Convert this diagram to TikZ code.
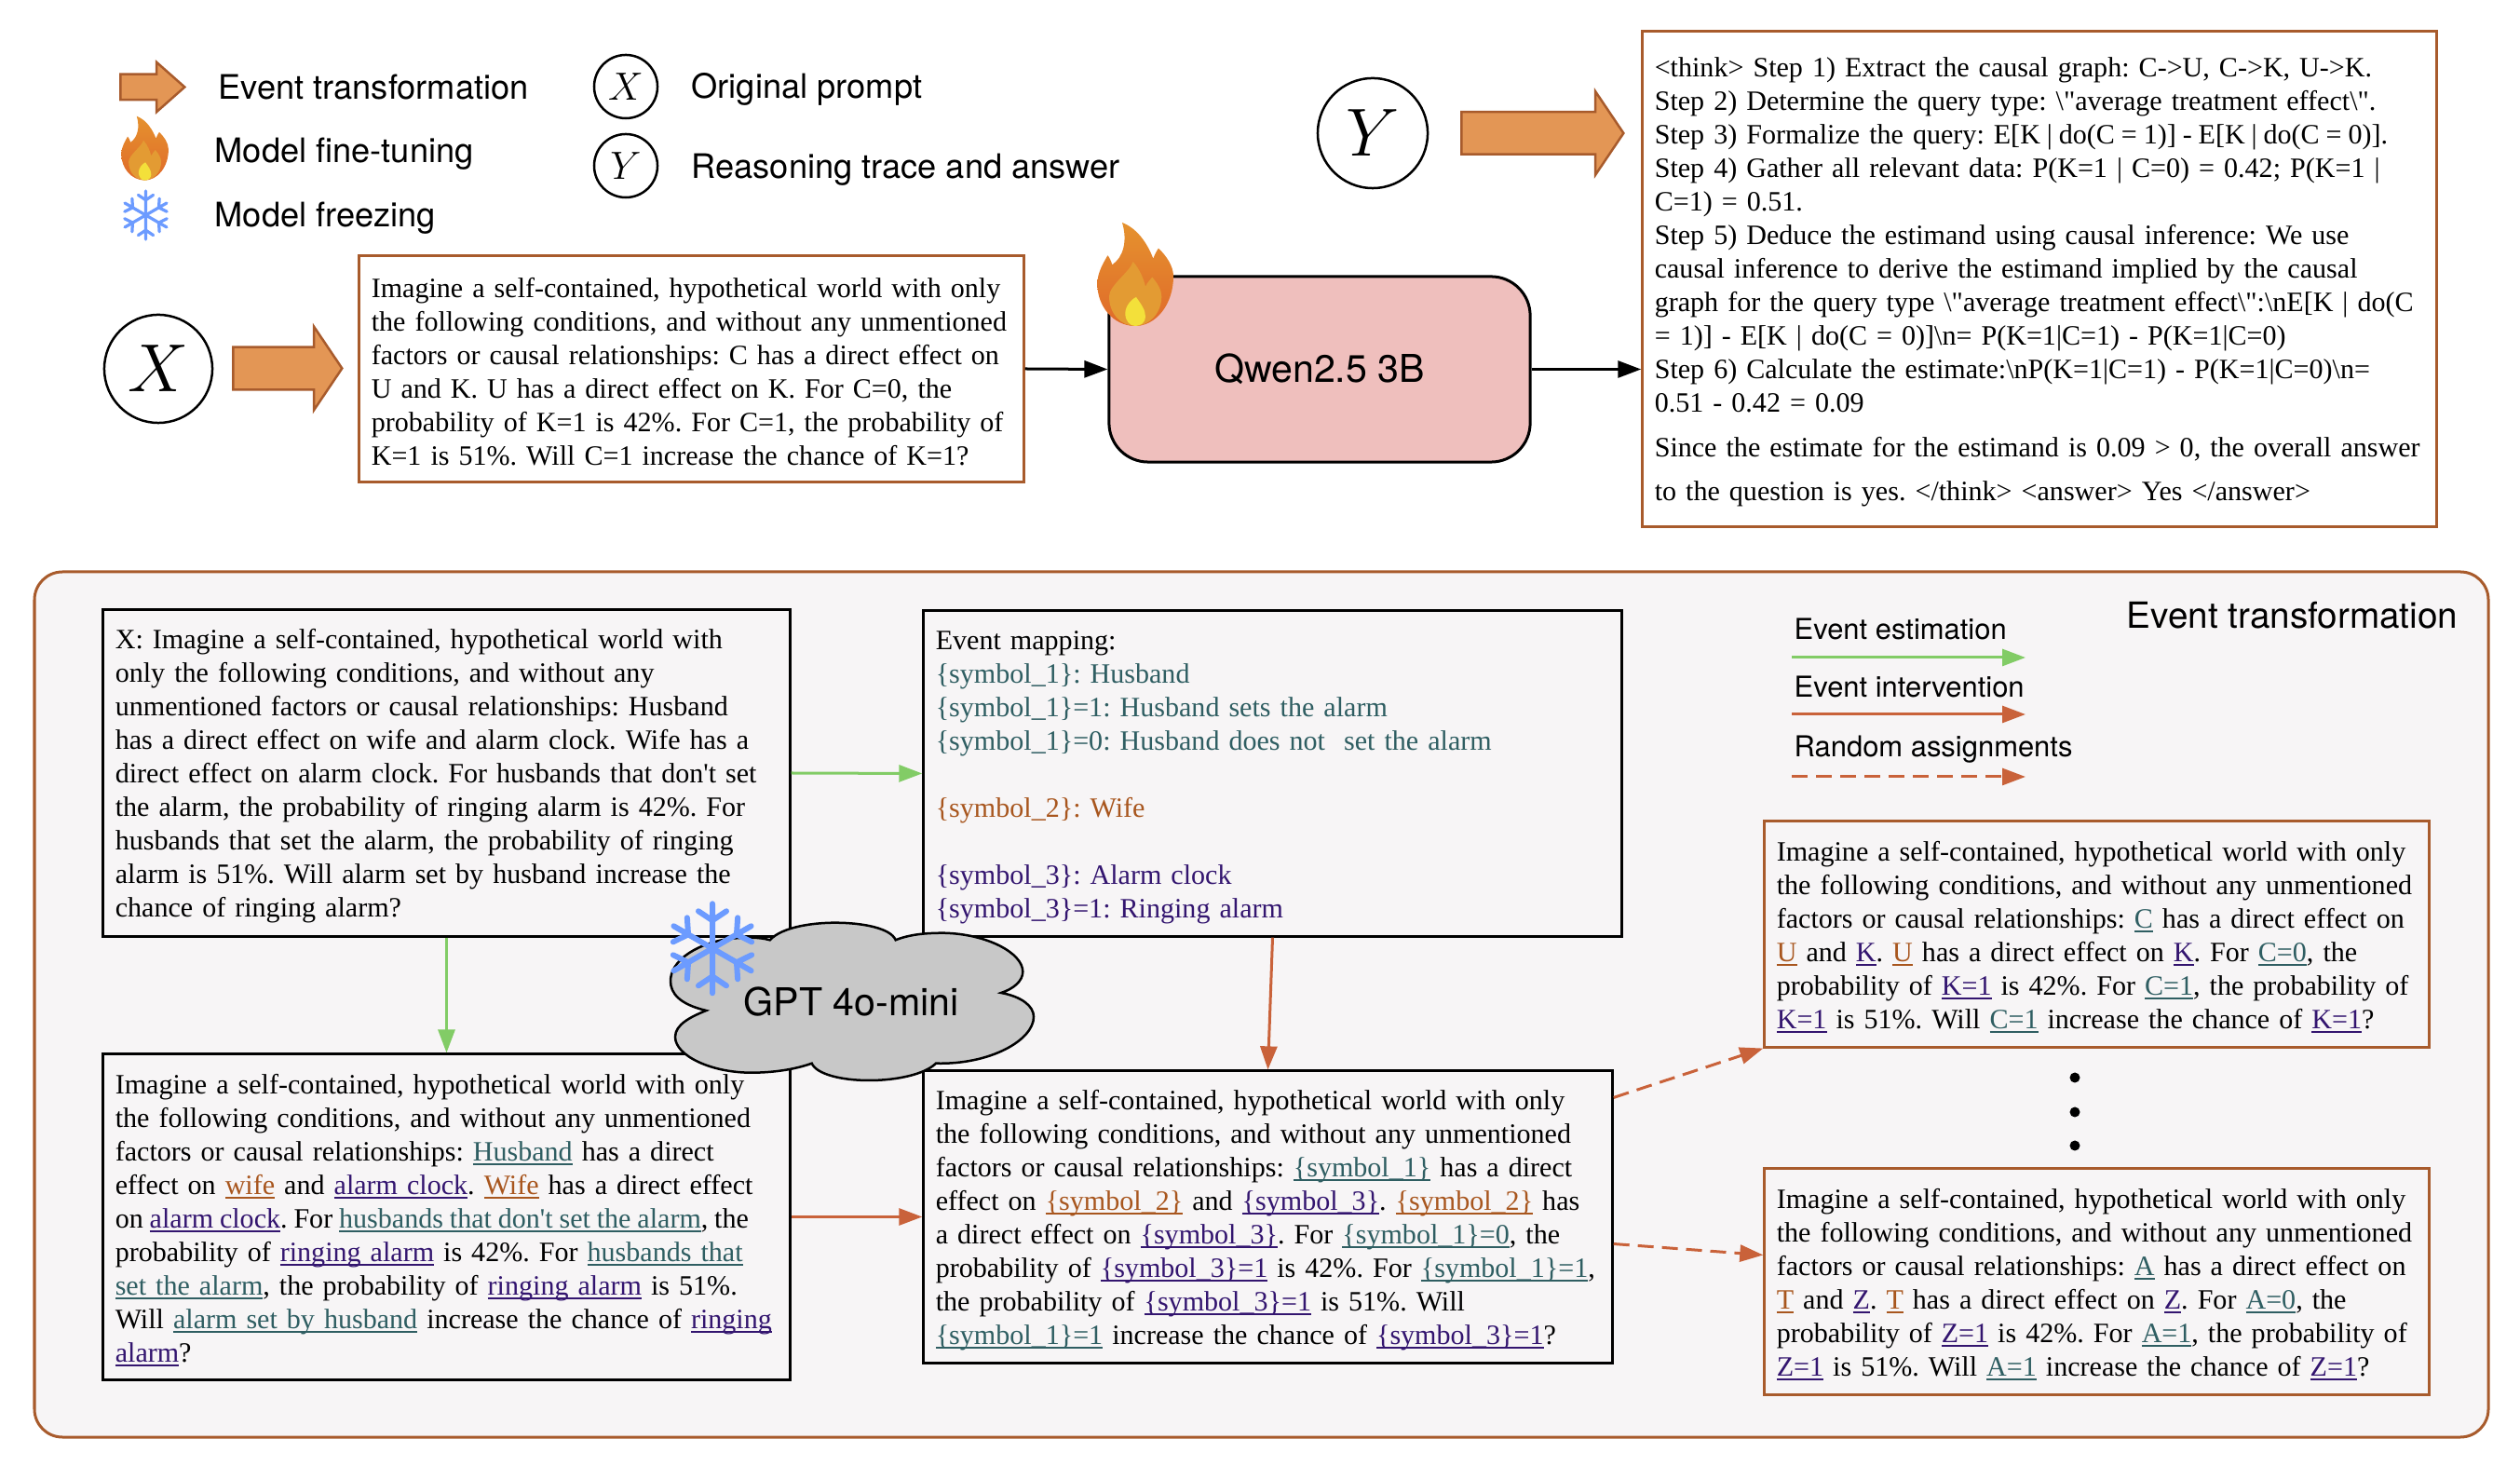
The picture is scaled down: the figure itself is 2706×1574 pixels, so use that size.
\documentclass[tikz,border=0pt]{standalone}
\usepackage{fontspec}
\setmainfont{Liberation Serif}
\setsansfont{TeX Gyre Heros}
\usetikzlibrary{arrows.meta,shapes.arrows}
\definecolor{brownline}{HTML}{A85B2C}
\definecolor{blockfill}{HTML}{E39655}
\definecolor{panelfill}{HTML}{F7F5F6}
\definecolor{qwenfill}{HTML}{EFBFBD}
\definecolor{cloudfill}{HTML}{C8C8C8}
\definecolor{estgreen}{HTML}{82CC66}
\definecolor{intorange}{HTML}{C9623A}
\definecolor{frostblue}{HTML}{6C9BFF}
\definecolor{flametop}{HTML}{E5922E}
\definecolor{flamelow}{HTML}{E06A2A}
\definecolor{flamemid}{HTML}{E39B33}
\definecolor{flamecore}{HTML}{F3E03A}
\definecolor{colA}{HTML}{2F5E62}
\definecolor{colB}{HTML}{A8561E}
\definecolor{colC}{HTML}{33156F}
\newcommand{\boxfont}{\fontsize{8.55}{10.24}\selectfont\frenchspacing\hyphenpenalty=10000\relax}
\newsavebox{\ulbox}
\newcommand{\markword}[2]{{\color{#1}\sbox{\ulbox}{#2}\usebox{\ulbox}\llap{\rule[-1.3pt]{\wd\ulbox}{0.55pt}}}}
\newcommand{\ulA}[1]{\markword{colA}{#1}}
\newcommand{\ulB}[1]{\markword{colB}{#1}}
\newcommand{\ulC}[1]{\markword{colC}{#1}}
\newcommand{\flameicon}[3]{\begin{scope}[shift={(#1,#2)},scale=#3]
	\path [top color=flametop,bottom color=flamelow] (-14,-55.3) .. controls (5,-48) and (15,-28) .. (19.3,-16.7) .. controls (21,-21) and (23,-25) .. (25,-27.7) .. controls (33,-20) and (41,-9) .. (41,2.3) .. controls (41,33) and (22,55.7) .. (0,55.7) .. controls (-24,55.7) and (-40.7,34) .. (-40.7,10.7) .. controls (-40.7,-2) and (-34,-12) .. (-29.7,-20) .. controls (-28,-19) and (-26,-14) .. (-24.7,-10) .. controls (-13,-18) and (-8,-35) .. (-14,-55.3) -- cycle;
	\fill [flamemid] (-2.3,-13.3) .. controls (5,-5) and (9,5) .. (11,13.3) .. controls (13,9) and (16,6) .. (18.3,3.3) .. controls (24,10) and (28.3,17) .. (28.3,24) .. controls (28.3,42) and (15,55.7) .. (0,55.7) .. controls (-16,55.7) and (-28,42) .. (-28,24) .. controls (-28,12) and (-6,-2) .. (-2.3,-13.3) -- cycle;
	\fill [flamecore] (1,24.7) .. controls (6,32) and (11,38) .. (11,45.7) .. controls (11,52) and (6,55.7) .. (0,55.7) .. controls (-6,55.7) and (-10.7,50) .. (-10.7,42.3) .. controls (-10.7,34) and (-4,27) .. (1,24.7) -- cycle;
	\end{scope}}
\newcommand{\frosticon}[3]{\begin{scope}[shift={(#1,#2)},scale=#3]
	\foreach \ang in {30,90,...,330}
		\draw [frostblue,line width=#3*0.06cm,line cap=round,rotate=\ang] (0,0) -- (48,0) (30,0) -- (40,15) (30,0) -- (40,-15);
	\end{scope}}
\begin{document}
\begin{tikzpicture}[x=0.01cm,y=-0.01cm]
	\tikzstyle{every node}+=[inner sep=0pt]
	\tikzstyle{blockarrow}=[single arrow,anchor=tail,draw=brownline,fill=blockfill,line width=0.025cm,inner ysep=0.215cm,single arrow head extend=0.22cm,single arrow tip angle=112]
	\tikzstyle{varcircle}=[circle,draw=black,line width=0.025cm,fill=white]
	\tikzstyle{legendtext}=[anchor=west,font=\sffamily\fontsize{10.3}{12}\selectfont]
	\tikzstyle{arrowtext}=[anchor=west,font=\sffamily\fontsize{8.8}{11}\selectfont]
	\tikzstyle{textbox}=[draw=black,line width=0.03cm,fill=panelfill,inner xsep=0.13cm,align=left,font=\boxfont,execute at begin node={\rule{0pt}{8pt}}]
	\tikzstyle{brownbox}=[textbox,draw=brownline]
	\tikzstyle{connector}=[line width=0.03cm,-{Triangle[length=0.25cm,width=0.18cm]}]
	\useasboundingbox (0,0) rectangle (2706,1574);
	\node [blockarrow,minimum height=0.69cm,minimum width=0.51cm,inner ysep=0.125cm,single arrow head extend=0.13cm,single arrow tip angle=83] (keyarrow) at (128,93.5) {};
	\node [legendtext] (keyevent) at (234,94) {Event transformation};
	\flameicon{155.5}{159}{0.62}
	\node [legendtext] (keytune) at (230,165) {Model fine-tuning};
	\frosticon{156.5}{231}{0.54}
	\node [legendtext] (keyfreeze) at (230,234) {Model freezing};
	\node [varcircle,minimum size=0.68cm,font=\fontsize{11.9}{14}\selectfont] (keyX) at (672,93) {$X$};
	\node [legendtext] (keyprompt) at (742,96) {Original prompt};
	\node [varcircle,minimum size=0.68cm,font=\fontsize{11.9}{14}\selectfont] (keyY) at (672,178) {$Y$};
	\node [legendtext] (keytrace) at (742,182) {Reasoning trace and answer};
	\node [varcircle,minimum size=1.16cm,font=\fontsize{20.74}{24}\selectfont] (bigX) at (170,396) {$X$};
	\node [blockarrow,minimum height=1.17cm,minimum width=0.87cm] (arrowX) at (249,395.5) {};
	\node [brownbox,fill=white,text width=6.87cm,minimum height=2.42cm] (prompt) at (742.5,396) {Imagine a self-contained, hypothetical world with only\\
the following conditions, and without any unmentioned\\
factors or causal relationships: C has a direct effect on\\
U and K. U has a direct effect on K. For C=0, the\\
probability of K=1 is 42\%. For C=1, the probability of\\
K=1 is 51\%. Will C=1 increase the chance of K=1?};
	\node [draw=black,line width=0.03cm,fill=qwenfill,rounded corners=0.42cm,minimum width=4.52cm,minimum height=1.99cm,font=\sffamily\fontsize{11.7}{14}\selectfont] (qwen) at (1417,396.5) {Qwen2.5 3B};
	\flameicon{1219}{294.3}{1}
	\node [varcircle,minimum size=1.18cm,font=\fontsize{20.74}{24}\selectfont] (bigY) at (1474,143) {$Y$};
	\node [blockarrow,minimum height=1.74cm,minimum width=0.875cm] (arrowY) at (1568,143) {};
	\node [brownbox,fill=white,text width=8.26cm,minimum height=5.31cm] (trace) at (2190,299.5) {<think> Step 1) Extract the causal graph: C->U, C->K, U->K.\\
Step 2) Determine the query type: \textbackslash\textquotedbl average treatment effect\textbackslash\textquotedbl.\\
Step 3) Formalize the query: {\spaceskip=1.97pt E[K | do(C = 1)] - E[K | do(C = 0)].}\\
Step 4) Gather all relevant data: P(K=1 | C=0) = 0.42; P(K=1 |\\
C=1) = 0.51.\\
Step 5) Deduce the estimand using causal inference: We use\\
causal inference to derive the estimand implied by the causal\\
graph for the query type \textbackslash\textquotedbl average treatment effect\textbackslash\textquotedbl:\textbackslash nE[K | do(C\\
= 1)] - E[K | do(C = 0)]\textbackslash n= P(K=1|C=1) - P(K=1|C=0)\\
Step 6) Calculate the estimate:\textbackslash nP(K=1|C=1) - P(K=1|C=0)\textbackslash n=\\
0.51 - 0.42 = 0.09\\[0.115cm]
Since the estimate for the estimand is 0.09 > 0, the overall answer\\[0.115cm]
to the question is yes. </think> <answer> Yes </answer>};
	\draw [connector] (prompt.east) -- (qwen.west);
	\draw [connector] (qwen.east) -- (qwen.east -| trace.west);
	\draw [brownline,line width=0.03cm,fill=panelfill,rounded corners=0.3cm] (37,614) rectangle (2672,1543);
	\node [textbox,text width=7.11cm,minimum height=3.5cm] (story) at (479.5,830) {X: Imagine a self-contained, hypothetical world with\\
only the following conditions, and without any\\
unmentioned factors or causal relationships: Husband\\
has a direct effect on wife and alarm clock. Wife has a\\
direct effect on alarm clock. For husbands that don\textquotesingle t set\\
the alarm, the probability of ringing alarm is 42\%. For\\
husbands that set the alarm, the probability of ringing\\
alarm is 51\%. Will alarm set by husband increase the\\
chance of ringing alarm?};
	\node [textbox,text width=7.23cm,minimum height=3.49cm] (mapping) at (1366.5,830.5) {Event mapping:\\
\textcolor{colA}{\{symbol\_1\}: Husband}\\
\textcolor{colA}{\{symbol\_1\}=1: Husband sets the alarm}\\
\textcolor{colA}{\{symbol\_1\}=0: Husband does not \ set the alarm}\\
\mbox{}\\
\textcolor{colB}{\{symbol\_2\}: Wife}\\
\mbox{}\\
\textcolor{colC}{\{symbol\_3\}: Alarm clock}\\
\textcolor{colC}{\{symbol\_3\}=1: Ringing alarm}};
	\node [textbox,text width=7.11cm,minimum height=3.49cm] (marked) at (479.5,1306.5) {Imagine a self-contained, hypothetical world with only\\
the following conditions, and without any unmentioned\\
factors or causal relationships: \ulA{Husband} has a direct\\
effect on \ulB{wife} and \ulC{alarm clock}. \ulB{Wife} has a direct effect\\
{\spaceskip=1.95pt on \ulC{alarm clock}. For \ulA{husbands that don\textquotesingle t set the alarm}, the}\\
probability of \ulC{ringing alarm} is 42\%. For \ulA{husbands that}\\
\ulA{set the alarm}, the probability of \ulC{ringing alarm} is 51\%.\\
Will \ulA{alarm set by husband} increase the chance of \ulC{ringing}\\
\ulC{alarm}?};
	\node [textbox,text width=7.13cm,minimum height=3.13cm] (symbolic) at (1361.5,1306.5) {Imagine a self-contained, hypothetical world with only\\
the following conditions, and without any unmentioned\\
factors or causal relationships: \ulA{\{symbol\_1\}} has a direct\\
effect on \ulB{\{symbol\_2\}} and \ulC{\{symbol\_3\}}. \ulB{\{symbol\_2\}} has\\
a direct effect on \ulC{\{symbol\_3\}}. For \ulA{\{symbol\_1\}=0}, the\\
probability of \ulC{\{symbol\_3\}=1} is 42\%. For \ulA{\{symbol\_1\}=1},\\
the probability of \ulC{\{symbol\_3\}=1} is 51\%. Will\\
\ulA{\{symbol\_1\}=1} increase the chance of \ulC{\{symbol\_3\}=1}?};
	\node [brownbox,text width=6.87cm,minimum height=2.42cm] (assignC) at (2251.5,1003) {Imagine a self-contained, hypothetical world with only\\
the following conditions, and without any unmentioned\\
factors or causal relationships: \ulA{C} has a direct effect on\\
\ulB{U} and \ulC{K}. \ulB{U} has a direct effect on \ulC{K}. For \ulA{C=0}, the\\
probability of \ulC{K=1} is 42\%. For \ulA{C=1}, the probability of\\
\ulC{K=1} is 51\%. Will \ulA{C=1} increase the chance of \ulC{K=1}?};
	\node [brownbox,text width=6.87cm,minimum height=2.42cm] (assignA) at (2251.5,1376) {Imagine a self-contained, hypothetical world with only\\
the following conditions, and without any unmentioned\\
factors or causal relationships: \ulA{A} has a direct effect on\\
\ulB{T} and \ulC{Z}. \ulB{T} has a direct effect on \ulC{Z}. For \ulA{A=0}, the\\
probability of \ulC{Z=1} is 42\%. For \ulA{A=1}, the probability of\\
\ulC{Z=1} is 51\%. Will \ulA{A=1} increase the chance of \ulC{Z=1}?};
	\draw [connector,estgreen] (story.east) -- (mapping.west);
	\draw [connector,estgreen] (story.south) -- (marked.north);
	\draw [connector,intorange] (marked.east) -- (symbolic.west);
	\draw [connector,intorange] (mapping.south) -- (symbolic.north);
	\draw [connector,intorange,dash pattern=on 0.17cm off 0.09cm] ([yshift=1.28cm]symbolic.east) -- (assignC.south west);
	\draw [connector,intorange,dash pattern=on 0.17cm off 0.09cm] ([yshift=-0.29cm]symbolic.east) -- ([yshift=0.285cm]assignA.west);
	\fill (2228,1157) circle (5.5);
	\fill (2228,1194) circle (5.5);
	\fill (2228,1230) circle (5.5);
	\node [anchor=west,font=\sffamily\fontsize{11}{13}\selectfont] (paneltitle) at (2283,661) {Event transformation};
	\node [arrowtext] (keyest) at (1926,675) {Event estimation};
	\coordinate (estA) at (1924,706);
	\coordinate (estB) at (2175,706);
	\draw [connector,estgreen] (estA) -- (estB);
	\node [arrowtext] (keyint) at (1926,737) {Event intervention};
	\coordinate (intA) at (1924,767);
	\coordinate (intB) at (2175,767);
	\draw [connector,intorange] (intA) -- (intB);
	\node [arrowtext] (keyrand) at (1926,805) {Random assignments};
	\coordinate (randA) at (1924,834);
	\coordinate (randB) at (2175,834);
	\draw [connector,intorange,dash pattern=on 0.17cm off 0.09cm] (randA) -- (randB);
	\draw [black,line width=0.025cm,fill=cloudfill] (758.3,1085) .. controls (730,1078.3) and (720,1066.7) .. (720,1053.3) .. controls (720,1033.3) and (743.3,1015) .. (780,1008.3) .. controls (800,1006) and (815,1006) .. (826.7,1009.3) .. controls (840,995) and (873.3,990.7) .. (896.7,990.7) .. controls (926.7,990.7) and (956.7,996.7) .. (961.7,1009.3) .. controls (976.7,1003.3) and (993.3,1001.7) .. (1013.3,1001.7) .. controls (1060,1002.7) and (1098.3,1023.3) .. (1098.3,1043.3) .. controls (1098.3,1053.3) and (1088.3,1061.7) .. (1075,1066) .. controls (1096.7,1070) and (1110,1080) .. (1110,1091.7) .. controls (1110,1116.7) and (1063.3,1143.3) .. (1005,1141.7) .. controls (993.3,1153.3) and (963.3,1160) .. (933.3,1160) .. controls (903.3,1160) and (876.7,1153.3) .. (871.7,1141.7) .. controls (853.3,1148.3) and (830,1151.7) .. (806.7,1151.7) .. controls (763.3,1151.7) and (725,1133.3) .. (725,1113.3) .. controls (725,1100) and (741.7,1091.7) .. (758.3,1085) -- cycle;
	\node [font=\sffamily\fontsize{11.7}{14}\selectfont] (gptlabel) at (914,1076) {GPT 4o-mini};
	\frosticon{765}{1018.3}{1}
\end{tikzpicture}
\end{document}
